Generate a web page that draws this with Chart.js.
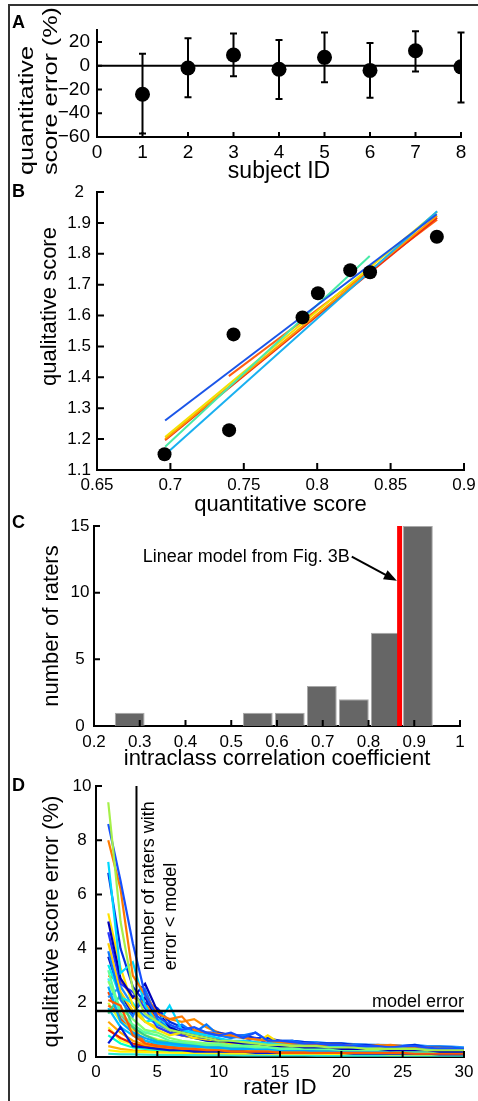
<!DOCTYPE html>
<html>
<head>
<meta charset="utf-8">
<script src="https://cdn.jsdelivr.net/npm/chart.js@4/dist/chart.umd.min.js"></script>
<style>
  html, body { margin: 0; padding: 0; background: #fff; }
  body { width: 478px; height: 1101px; position: relative; overflow: hidden; font-family: 'Liberation Sans', Arial, sans-serif; }
  canvas { position: absolute; left: 0; }
  .frame-top { position: absolute; left: 8px; top: 4px; width: 470px; height: 2px; background: #333; }
  .frame-left { position: absolute; left: 8px; top: 4px; width: 2px; height: 1097px; background: #333; }
  .tag { position: absolute; left: 12px; font-weight: bold; font-size: 18px; line-height: 1; }
</style>
</head>
<body>
<div class="frame-top"></div>
<div class="frame-left"></div>
<canvas id="chart_b" width="478" height="332" style="top:184px"></canvas>
<canvas id="chart_a" width="478" height="194" style="top:6px"></canvas>
<canvas id="chart_c" width="478" height="256" style="top:516px"></canvas>
<canvas id="chart_d" width="478" height="329" style="top:772px"></canvas>
<div class="tag" style="top:13px">A</div>
<div class="tag" style="top:182px">B</div>
<div class="tag" style="top:513px">C</div>
<div class="tag" style="top:776px">D</div>
<script>
// panel A: quantitative score error per subject
const subjectIds = [1, 2, 3, 4, 5, 6, 7, 8];
const errMean = [-24, -2, 9, -3, 7, -4, 12.5, -1];
const errLow = [-57, -26.5, -9, -28, -14, -27, -5, -31];
const errHigh = [10, 23, 27, 21.5, 28, 19, 29, 28];
const aTicksX = [0, 1, 2, 3, 4, 5, 6, 7, 8];
const aTicksY = [-60, -40, -20, 0, 20];
const aTitleY = ['quantitative', 'score error (%)'];

// panel B: qualitative vs quantitative score, with per-rater linear fits
const quantScore = [0.696, 0.740, 0.743, 0.790, 0.8005, 0.8225, 0.836, 0.8815];
const qualScore = [1.151, 1.229, 1.539, 1.594, 1.672, 1.747, 1.740, 1.855];
const fitX0 = [0.6964, 0.6986, 0.6964, 0.6964, 0.6964, 0.6964, 0.7398];
const fitY0 = [1.260, 1.159, 1.175, 1.207, 1.200, 1.196, 1.404];
const fitX1 = [0.8815, 0.8817, 0.8358, 0.8817, 0.8817, 0.8817, 0.8817];
const fitY1 = [1.928, 1.938, 1.7925, 1.936, 1.923, 1.917, 1.910];
const fitColors = ['#1a55e8', '#1ab0f0', '#48eaa8', '#f2e200', '#ff9a00', '#ee2a10', '#ff6010'];
const bTicksX = [0.65, 0.7, 0.75, 0.8, 0.85, 0.9];
const bTicksY = [1.1, 1.2, 1.3, 1.4, 1.5, 1.6, 1.7, 1.8, 1.9, 2];

// panel C: histogram of rater ICC
const iccBins = [0.278, 0.558, 0.628, 0.698, 0.768, 0.838, 0.908];
const raterCounts = [1, 1, 1, 3, 2, 7, 15];
const modelIcc = 0.868;
const cTicksX = [0.2, 0.3, 0.4, 0.5, 0.6, 0.7, 0.8, 0.9, 1];
const cTicksY = [0, 5, 10, 15];

// panel D: qualitative score error vs number of raters
const raterIds = [1, 2, 3, 4, 5, 6, 7, 8, 9, 10, 11, 12, 13, 14, 15, 16, 17, 18, 19, 20, 21, 22, 23, 24, 25, 26, 27, 28, 29, 30];
const errorCurves = [
  [9.4, 5.0, 2.5, 1.6, 1.3, 1.0, 0.9, 0.8, 0.7, 0.6, 0.6, 0.55, 0.5, 0.45, 0.45, 0.4, 0.4, 0.4, 0.35, 0.35, 0.35, 0.3, 0.3, 0.3, 0.3, 0.3, 0.25, 0.25, 0.25, 0.25],
  [8.6, 6.5, 4.2, 2.3, 1.5, 1.2, 1.0, 1.1, 0.9, 0.8, 0.9, 0.7, 0.9, 0.6, 0.6, 0.55, 0.5, 0.5, 0.45, 0.45, 0.4, 0.4, 0.4, 0.35, 0.4, 0.4, 0.35, 0.3, 0.3, 0.3],
  [8.0, 6.2, 3.0, 2.3, 1.6, 1.4, 1.5, 1.0, 0.9, 0.85, 0.8, 0.7, 0.65, 0.6, 0.55, 0.5, 0.5, 0.45, 0.45, 0.45, 0.4, 0.4, 0.4, 0.45, 0.4, 0.35, 0.35, 0.3, 0.3, 0.25],
  [7.2, 3.1, 3.5, 1.9, 1.2, 1.9, 1.0, 0.9, 0.8, 0.7, 0.6, 0.6, 0.55, 0.5, 0.5, 0.5, 0.45, 0.4, 0.4, 0.4, 0.35, 0.35, 0.3, 0.3, 0.3, 0.3, 0.3, 0.3, 0.3, 0.3],
  [5.0, 2.9, 2.2, 2.7, 1.7, 1.1, 0.9, 0.8, 0.7, 0.6, 0.55, 0.5, 0.5, 0.45, 0.4, 0.4, 0.35, 0.35, 0.35, 0.3, 0.3, 0.3, 0.3, 0.25, 0.25, 0.25, 0.25, 0.2, 0.2, 0.2],
  [5.3, 3.3, 1.9, 1.3, 1.0, 0.8, 0.9, 0.7, 0.8, 0.6, 0.5, 0.6, 0.5, 0.8, 0.5, 0.45, 0.4, 0.5, 0.4, 0.35, 0.4, 0.3, 0.35, 0.3, 0.3, 0.3, 0.25, 0.25, 0.25, 0.2],
  [2.1, 1.9, 0.8, 0.5, 0.4, 0.35, 0.3, 0.3, 0.25, 0.25, 0.2, 0.2, 0.2, 0.2, 0.15, 0.15, 0.15, 0.15, 0.15, 0.15, 0.15, 0.15, 0.15, 0.15, 0.15, 0.12, 0.12, 0.12, 0.12, 0.12],
  [3.9, 2.1, 1.5, 2.5, 1.4, 1.0, 1.2, 0.9, 1.2, 0.8, 0.7, 0.8, 0.9, 0.6, 0.55, 0.6, 0.5, 0.45, 0.45, 0.4, 0.45, 0.4, 0.35, 0.35, 0.3, 0.35, 0.3, 0.3, 0.3, 0.3],
  [3.2, 1.6, 1.2, 0.9, 0.8, 0.6, 0.55, 0.5, 0.45, 0.45, 0.4, 0.4, 0.35, 0.35, 0.3, 0.3, 0.3, 0.3, 0.3, 0.25, 0.25, 0.25, 0.25, 0.25, 0.2, 0.2, 0.2, 0.2, 0.2, 0.2],
  [2.6, 1.3, 0.9, 0.7, 0.55, 0.5, 0.45, 0.4, 0.35, 0.35, 0.3, 0.3, 0.3, 0.3, 0.25, 0.25, 0.25, 0.2, 0.2, 0.2, 0.2, 0.2, 0.2, 0.2, 0.2, 0.15, 0.15, 0.15, 0.15, 0.15],
  [0.5, 1.1, 0.4, 0.35, 0.3, 0.25, 0.25, 0.2, 0.2, 0.2, 0.2, 0.2, 0.15, 0.15, 0.15, 0.15, 0.15, 0.15, 0.15, 0.15, 0.12, 0.12, 0.12, 0.12, 0.12, 0.12, 0.12, 0.1, 0.1, 0.1],
  [0.25, 0.2, 0.2, 0.18, 0.17, 0.16, 0.15, 0.15, 0.14, 0.14, 0.13, 0.13, 0.13, 0.12, 0.12, 0.12, 0.12, 0.12, 0.11, 0.11, 0.11, 0.11, 0.11, 0.1, 0.1, 0.1, 0.1, 0.1, 0.1, 0.1],
  [0.12, 0.1, 0.1, 0.09, 0.08, 0.08, 0.08, 0.07, 0.07, 0.07, 0.07, 0.06, 0.06, 0.06, 0.06, 0.06, 0.06, 0.05, 0.05, 0.05, 0.05, 0.05, 0.05, 0.05, 0.05, 0.05, 0.05, 0.05, 0.05, 0.05],
  [1.3, 0.9, 0.6, 0.45, 0.4, 0.35, 0.3, 0.3, 0.28, 0.25, 0.25, 0.22, 0.2, 0.2, 0.2, 0.2, 0.18, 0.18, 0.18, 0.18, 0.17, 0.17, 0.16, 0.16, 0.16, 0.15, 0.15, 0.15, 0.15, 0.15],
  [1.6, 2.3, 1.1, 0.8, 0.6, 0.55, 0.5, 0.45, 0.4, 0.4, 0.35, 0.35, 0.3, 0.3, 0.3, 0.3, 0.28, 0.28, 0.26, 0.26, 0.25, 0.25, 0.25, 0.24, 0.24, 0.23, 0.23, 0.22, 0.22, 0.22],
  [1.9, 1.6, 1.1, 0.5, 0.35, 0.3, 0.25, 0.2, 0.15, 0.12, 0.1, 0.1, 0.1, 0.1, 0.1, 0.1, 0.1, 0.1, 0.1, 0.1, 0.1, 0.1, 0.1, 0.1, 0.1, 0.1, 0.1, 0.1, 0.1, 0.1],
  [3.4, 2.2, 2.0, 1.3, 1.4, 1.1, 0.9, 0.9, 0.7, 0.6, 0.6, 0.5, 0.5, 0.45, 0.5, 0.4, 0.4, 0.45, 0.4, 0.35, 0.35, 0.35, 0.3, 0.3, 0.3, 0.3, 0.3, 0.3, 0.25, 0.25],
  [4.6, 2.7, 2.4, 1.8, 1.1, 0.9, 0.8, 0.75, 0.7, 0.65, 0.6, 0.55, 0.7, 0.5, 0.5, 0.45, 0.5, 0.4, 0.4, 0.4, 0.35, 0.35, 0.35, 0.3, 0.3, 0.3, 0.3, 0.3, 0.3, 0.25],
  [2.0, 1.3, 1.0, 0.8, 0.65, 0.55, 0.55, 0.5, 0.45, 0.45, 0.4, 0.35, 0.35, 0.35, 0.3, 0.3, 0.3, 0.3, 0.35, 0.3, 0.3, 0.28, 0.28, 0.26, 0.26, 0.25, 0.25, 0.24, 0.24, 0.22],
  [1.0, 0.7, 0.5, 0.4, 0.35, 0.3, 0.28, 0.26, 0.24, 0.22, 0.2, 0.2, 0.2, 0.18, 0.18, 0.18, 0.17, 0.17, 0.17, 0.16, 0.16, 0.16, 0.16, 0.15, 0.15, 0.15, 0.15, 0.15, 0.15, 0.15],
  [6.8, 4.0, 2.6, 2.0, 1.8, 1.3, 1.1, 1.0, 0.9, 0.9, 0.8, 0.8, 0.7, 0.7, 0.6, 0.6, 0.55, 0.5, 0.5, 0.5, 0.45, 0.45, 0.4, 0.4, 0.4, 0.45, 0.35, 0.35, 0.35, 0.3],
  [4.2, 2.4, 1.7, 1.3, 1.1, 0.9, 0.8, 0.7, 0.65, 0.6, 0.55, 0.5, 0.5, 0.45, 0.45, 0.4, 0.4, 0.38, 0.36, 0.35, 0.33, 0.32, 0.3, 0.3, 0.28, 0.28, 0.27, 0.26, 0.25, 0.25],
  [2.8, 1.8, 1.4, 1.0, 0.9, 0.7, 0.6, 0.55, 0.5, 0.5, 0.45, 0.45, 0.4, 0.4, 0.4, 0.35, 0.35, 0.35, 0.3, 0.3, 0.3, 0.3, 0.3, 0.3, 0.28, 0.28, 0.27, 0.26, 0.25, 0.25],
  [3.0, 2.8, 2.2, 2.0, 1.3, 1.4, 1.3, 1.4, 1.1, 0.9, 0.8, 0.75, 0.7, 0.65, 0.6, 0.55, 0.5, 0.5, 0.45, 0.45, 0.45, 0.4, 0.45, 0.4, 0.4, 0.35, 0.35, 0.35, 0.3, 0.3],
  [1.8, 1.1, 0.8, 0.6, 0.5, 0.45, 0.4, 0.35, 0.33, 0.3, 0.28, 0.27, 0.26, 0.25, 0.24, 0.23, 0.22, 0.22, 0.21, 0.2, 0.2, 0.2, 0.19, 0.19, 0.18, 0.18, 0.18, 0.17, 0.17, 0.17],
  [2.2, 2.6, 1.9, 1.5, 1.2, 1.0, 0.95, 0.9, 0.85, 0.8, 0.75, 0.7, 0.65, 0.62, 0.6, 0.6, 0.55, 0.55, 0.5, 0.5, 0.48, 0.46, 0.45, 0.44, 0.42, 0.45, 0.4, 0.4, 0.38, 0.36],
  [1.1, 0.6, 0.45, 0.35, 0.3, 0.28, 0.26, 0.25, 0.24, 0.24, 0.23, 0.22, 0.22, 0.21, 0.21, 0.2, 0.2, 0.2, 0.2, 0.2, 0.2, 0.2, 0.2, 0.19, 0.19, 0.19, 0.18, 0.18, 0.18, 0.18],
  [0.8, 0.5, 0.35, 0.3, 0.25, 0.22, 0.2, 0.18, 0.17, 0.16, 0.15, 0.15, 0.14, 0.14, 0.13, 0.13, 0.13, 0.12, 0.12, 0.12, 0.12, 0.11, 0.11, 0.11, 0.11, 0.1, 0.1, 0.1, 0.1, 0.1],
  [2.4, 1.4, 0.9, 0.6, 0.45, 0.4, 0.35, 0.33, 0.3, 0.28, 0.27, 0.26, 0.25, 0.25, 0.24, 0.24, 0.23, 0.23, 0.22, 0.22, 0.22, 0.21, 0.21, 0.2, 0.2, 0.2, 0.2, 0.19, 0.19, 0.19],
  [3.7, 2.3, 1.6, 2.2, 1.3, 1.0, 0.8, 0.7, 0.6, 0.55, 0.5, 0.45, 0.45, 0.4, 0.4, 0.35, 0.35, 0.35, 0.3, 0.3, 0.3, 0.3, 0.28, 0.28, 0.27, 0.26, 0.25, 0.25, 0.24, 0.24],
  [2.9, 1.5, 1.0, 0.9, 1.0, 1.2, 0.8, 0.7, 0.6, 0.6, 0.55, 0.5, 0.45, 0.45, 0.5, 0.45, 0.4, 0.45, 0.4, 0.38, 0.36, 0.35, 0.34, 0.33, 0.32, 0.31, 0.3, 0.3, 0.29, 0.28],
  [0.4, 0.3, 0.25, 0.22, 0.2, 0.2, 0.18, 0.18, 0.17, 0.17, 0.16, 0.16, 0.16, 0.15, 0.15, 0.15, 0.15, 0.14, 0.14, 0.14, 0.14, 0.14, 0.13, 0.13, 0.13, 0.13, 0.13, 0.12, 0.12, 0.12]
];
const curveColors = ['#a6f04a', '#1550ff', '#ff7a00', '#00d8ff', '#0000b8', '#ffe100', '#ff5a00', '#0a78ff', '#5cff9a', '#00a6ff',
  '#0018d8', '#fff200', '#28e8d0', '#ffa500', '#38d088', '#ff6a10', '#00f0f0', '#2838ff', '#d0ff30', '#e82000',
  '#0030e0', '#ffd000', '#80ff70', '#ff8c00', '#00bfff', '#1e90ff', '#ffff30', '#00ffc8', '#ff4500', '#1010c0',
  '#40f0ff', '#ffb000'];
const modelError = 1.7;
const ratersBelowModel = 3.3;
const dTicksX = [0, 5, 10, 15, 20, 25, 30];
const dTicksY = [0, 2, 4, 6, 8, 10];

Chart.defaults.font.family = "'Liberation Sans', Arial, Helvetica, sans-serif";
Chart.defaults.color = '#000';
Chart.defaults.animation = false;
Chart.defaults.plugins.legend.display = false;
Chart.defaults.plugins.tooltip.enabled = false;

// MATLAB-style ticks that point into the plot
Chart.register({
  id: 'inTicks',
  afterDraw(chart, args, opts) {
    const { ctx, chartArea: a, scales: { x, y } } = chart;
    const len = opts.len || 6;
    ctx.save();
    ctx.strokeStyle = '#000';
    ctx.lineWidth = 2;
    ctx.beginPath();
    x.ticks.forEach(t => { const px = x.getPixelForValue(t.value); ctx.moveTo(px, a.bottom); ctx.lineTo(px, a.bottom - len); });
    y.ticks.forEach(t => { const py = y.getPixelForValue(t.value); ctx.moveTo(a.left, py); ctx.lineTo(a.left + len, py); });
    ctx.stroke();
    ctx.restore();
  }
});

const fmt = v => String(+v.toFixed(2)).replace('-', '\u2212');

function axis(ticks, min, max, opts) {
  return {
    type: 'linear', min: min, max: max, offset: false,
    grid: { display: false, drawTicks: false, tickLength: 0 },
    border: { display: true, color: '#000', width: 2 },
    afterBuildTicks: s => { s.ticks = ticks.map(v => ({ value: v })); },
    afterFit: s => {
      if (opts.w != null) s.width = opts.w;
      if (opts.h != null) s.height = opts.h;
      s.paddingLeft = s.paddingRight = s.paddingTop = s.paddingBottom = 0;
    },
    ticks: {
      font: { size: opts.tickSize || 17 }, padding: opts.pad, crossAlign: opts.cross || 'near',
      maxRotation: 0, autoSkip: false, callback: v => fmt(v)
    },
    title: {
      display: !!opts.title, text: opts.title, font: { size: opts.titleSize || 22, lineHeight: 1.05 },
      padding: opts.titlePad
    }
  };
}

// ---------- A ----------
new Chart(document.getElementById('chart_a'), {
  type: 'scatter',
  data: {
    datasets: [
      { data: subjectIds.map((s, i) => ({ x: s, y: errMean[i] })), pointRadius: 7.5, backgroundColor: '#000', borderWidth: 0 },
      { type: 'line', data: [{ x: aTicksX[0], y: 0 }, { x: aTicksX[aTicksX.length - 1], y: 0 }], borderColor: '#000', borderWidth: 2, pointRadius: 0 }
    ]
  },
  options: {
    responsive: false,
    layout: { padding: { top: 24, right: 17, left: 0, bottom: 0 } },
    scales: {
      x: axis(aTicksX, 0, 8, { h: 63, pad: 4.6, tickSize: 19, title: 'subject ID', titleSize: 23, titlePad: { top: 0, bottom: 16 } }),
      y: axis(aTicksY, -60, 30, { w: 97, pad: 7, tickSize: 19 })
    },
    plugins: { inTicks: { len: 5 } }
  },
  plugins: [{
    id: 'errorBars',
    beforeDatasetsDraw(chart) {
      const { ctx, scales: { x, y } } = chart;
      ctx.save();
      ctx.strokeStyle = '#000';
      ctx.lineWidth = 2;
      ctx.beginPath();
      subjectIds.forEach((s, i) => {
        const px = x.getPixelForValue(s), lo = y.getPixelForValue(errLow[i]), hi = y.getPixelForValue(errHigh[i]);
        ctx.moveTo(px, lo); ctx.lineTo(px, hi);
        ctx.moveTo(px - 3.5, lo); ctx.lineTo(px + 3.5, lo);
        ctx.moveTo(px - 3.5, hi); ctx.lineTo(px + 3.5, hi);
      });
      ctx.stroke();
      ctx.restore();
    },
    afterDraw(chart) {
      // tall two-line y title of panel A, stretched along its length as in the figure
      const { ctx, chartArea: a } = chart;
      const cx = [27, 51], cy = [a.bottom - 26.5, a.bottom - 46], stretch = [1.2, 1.2];
      ctx.save();
      ctx.font = "21px 'Liberation Sans', Arial, sans-serif";
      ctx.fillStyle = '#000';
      ctx.textAlign = 'center';
      ctx.textBaseline = 'middle';
      aTitleY.forEach((t, i) => {
        ctx.save();
        ctx.translate(cx[i], cy[i]);
        ctx.rotate(-Math.PI / 2);
        ctx.scale(stretch[i], 1);
        ctx.fillText(t, 0, 0);
        ctx.restore();
      });
      ctx.restore();
    }
  }]
});

// ---------- B ----------
const fitSets = fitColors.map((c, i) => ({
  type: 'line', data: [{ x: fitX0[i], y: fitY0[i] }, { x: fitX1[i], y: fitY1[i] }],
  borderColor: c, borderWidth: 2, pointRadius: 0
}));
new Chart(document.getElementById('chart_b'), {
  type: 'scatter',
  data: {
    datasets: [
      { data: quantScore.map((q, i) => ({ x: q, y: qualScore[i] })), pointRadius: 7, backgroundColor: '#000', borderWidth: 0 }
    ].concat(fitSets)
  },
  options: {
    responsive: false,
    layout: { padding: { top: 8, right: 14, left: 0, bottom: 0 } },
    scales: {
      x: axis(bTicksX, 0.65, 0.9, { h: 46, pad: 5, title: 'quantitative score', titlePad: { top: 0, bottom: 0 } }),
      y: axis(bTicksY, 1.1, 2, { w: 97, pad: 6, cross: 'center', title: '        qualitative score', titlePad: { top: 38, bottom: 0 } })
    },
    plugins: { inTicks: { len: 7 } }
  }
});

// ---------- C ----------
new Chart(document.getElementById('chart_c'), {
  type: 'bar',
  data: {
    datasets: [
      { type: 'line', order: 0, data: [{ x: modelIcc, y: 0 }, { x: modelIcc, y: 15 }], borderColor: '#f00', borderWidth: 5, pointRadius: 0 },
      { type: 'bar', order: 1, data: iccBins.map((b, i) => ({ x: b, y: raterCounts[i] })), backgroundColor: '#666666',
        borderColor: '#a8a8a8', borderWidth: 1, barPercentage: 0.93, categoryPercentage: 1 }
    ]
  },
  options: {
    responsive: false,
    layout: { padding: { top: 10, right: 18, left: 0, bottom: 0 } },
    scales: {
      x: axis(cTicksX, 0.2, 1, { h: 46, pad: 6, title: 'intraclass correlation coefficient', titlePad: { top: 0, bottom: 1.5 } }),
      y: axis(cTicksY, 0, 15, { w: 94, pad: 4.5, cross: 'center', title: 'number of raters', titlePad: { top: 40, bottom: 0 } })
    },
    plugins: { inTicks: { len: 6 } }
  },
  plugins: [{
    id: 'note',
    afterDraw(chart) {
      const { ctx, scales: { x, y } } = chart;
      const tx = x.getPixelForValue(0.759), ty = y.getPixelForValue(12.7);
      const hx = x.getPixelForValue(modelIcc - 0.006), hy = y.getPixelForValue(10.9);
      ctx.save();
      ctx.font = "18px 'Liberation Sans', Arial, sans-serif";
      ctx.fillStyle = '#000';
      ctx.textAlign = 'right';
      ctx.textBaseline = 'middle';
      ctx.fillText('Linear model from Fig. 3B', tx, ty);
      const ang = Math.atan2(hy - ty, hx - tx);
      ctx.strokeStyle = '#000';
      ctx.lineWidth = 2;
      ctx.beginPath();
      ctx.moveTo(tx + 2, ty);
      ctx.lineTo(hx - 10 * Math.cos(ang), hy - 10 * Math.sin(ang));
      ctx.stroke();
      ctx.beginPath();
      ctx.moveTo(hx, hy);
      ctx.lineTo(hx - 13 * Math.cos(ang) + 5 * Math.sin(ang), hy - 13 * Math.sin(ang) - 5 * Math.cos(ang));
      ctx.lineTo(hx - 13 * Math.cos(ang) - 5 * Math.sin(ang), hy - 13 * Math.sin(ang) + 5 * Math.cos(ang));
      ctx.closePath();
      ctx.fill();
      ctx.restore();
    }
  }]
});

// ---------- D ----------
const curveSets = errorCurves.map((vals, i) => ({
  type: 'line', order: 2, data: vals.map((v, j) => ({ x: raterIds[j], y: v })),
  borderColor: curveColors[i], borderWidth: 2.2, pointRadius: 0
}));
new Chart(document.getElementById('chart_d'), {
  type: 'scatter',
  data: {
    datasets: [
      { type: 'line', order: 0, data: [{ x: dTicksX[0], y: modelError }, { x: dTicksX[dTicksX.length - 1], y: modelError }], borderColor: '#000', borderWidth: 2.5, pointRadius: 0 },
      { type: 'line', order: 0, data: [{ x: ratersBelowModel, y: 0 }, { x: ratersBelowModel, y: 10 }], borderColor: '#000', borderWidth: 2, pointRadius: 0 }
    ].concat(curveSets)
  },
  options: {
    responsive: false,
    layout: { padding: { top: 14, right: 14, left: 0, bottom: 0 } },
    scales: {
      x: axis(dTicksX, 0, 30, { h: 44, pad: 5, title: 'rater ID', titlePad: { top: 0, bottom: 1.5 } }),
      y: axis(dTicksY, 0, 10, { w: 96, pad: 4.5, cross: 'center', title: 'qualitative score error (%)', titlePad: { top: 40, bottom: 0 } })
    },
    plugins: { inTicks: { len: 6 } }
  },
  plugins: [{
    id: 'labelsD',
    afterDraw(chart) {
      const { ctx, scales: { x, y } } = chart;
      const vx = x.getPixelForValue(ratersBelowModel), by = y.getPixelForValue(3.2);
      ctx.save();
      ctx.font = "18px 'Liberation Sans', Arial, sans-serif";
      ctx.fillStyle = '#000';
      ctx.textAlign = 'right';
      ctx.textBaseline = 'alphabetic';
      ctx.fillText('model error', x.getPixelForValue(30), y.getPixelForValue(modelError) - 4);
      ctx.translate(vx, by);
      ctx.rotate(-Math.PI / 2);
      ctx.textAlign = 'left';
      ctx.textBaseline = 'middle';
      ctx.fillText('number of raters with', 0, 12.5);
      ctx.fillText('error < model', 0, 34.5);
      ctx.restore();
    }
  }]
});
</script>
</body>
</html>
